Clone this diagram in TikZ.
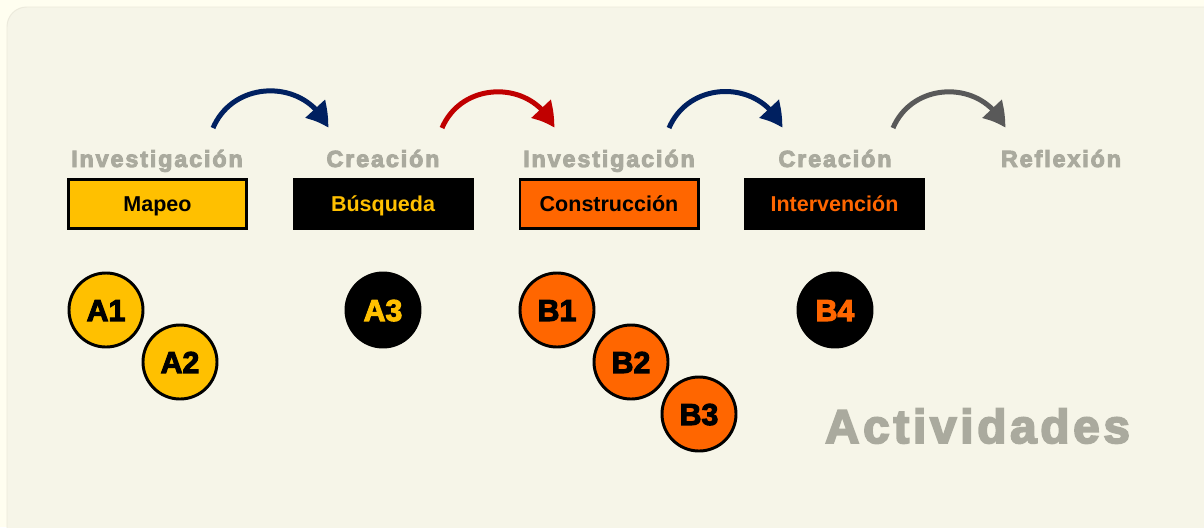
\documentclass[tikz,border=0pt]{standalone}
\usepackage{fontspec}
\setmainfont{Liberation Sans}
\newfontfamily\stagefont[LetterSpace=8]{Liberation Sans}[BoldFeatures={FakeBold=4}]
\newfontfamily\badgefont{Liberation Sans}[BoldFeatures={FakeBold=3.5}]
\usepackage{tikz}
\usetikzlibrary{arrows.meta, bending, positioning}
\definecolor{pagebg}{RGB}{255, 254, 240}
\definecolor{panelbg}{RGB}{246, 245, 232}
\definecolor{panelline}{RGB}{236, 234, 220}
\definecolor{stagegray}{RGB}{170, 170, 158}
\definecolor{mapgold}{RGB}{255, 192, 0}
\definecolor{buildorange}{RGB}{255, 102, 0}
\definecolor{navyarrow}{RGB}{0, 32, 96}
\definecolor{redarrow}{RGB}{192, 0, 0}
\definecolor{grayarrow}{RGB}{89, 89, 89}

\begin{document}
\begin{tikzpicture}[
  x=0.025cm, y=0.025cm,
  stagelabel/.style={anchor=base, inner sep=0pt, text=stagegray,
    font=\stagefont\bfseries\fontsize{16.6}{20}\selectfont},
  taskbox/.style={draw=black, line width=2.1pt, minimum width=4.45cm, minimum height=1.225cm,
    inner sep=0pt, text height=11pt, text depth=0pt, font=\bfseries\fontsize{15.3}{18}\selectfont},
  actcircle/.style={circle, draw=black, line width=2.1pt, minimum size=1.85cm, inner sep=0pt,
    text height=15.6pt, text depth=0pt, font=\badgefont\bfseries\fontsize{21.5}{24}\selectfont},
  flowarrow/.style={line width=3.55pt, -{Triangle[length=17pt, width=18pt, bend]},
    out=67, in=113, looseness=1.2}
]
  \useasboundingbox (0,0) rectangle (1204,-527);
  \clip (0,0) rectangle (1204,-527);
  \fill[pagebg] (0,0) rectangle (1204,-527);
  \filldraw[fill=panelbg, draw=panelline, line width=0.7pt, rounded corners=14pt]
    (7,-7) rectangle (1240,-560);

  % stages
  \node[stagelabel] (st1) at (157,-167) {Investigación};
  \node[stagelabel] (st2) at (383,-167) {Creación};
  \node[stagelabel] (st3) at (609,-167) {Investigación};
  \node[stagelabel] (st4) at (835,-167) {Creación};
  \node[stagelabel] (st5) at (1061,-167) {Reflexión};

  % task boxes
  \node[taskbox, fill=mapgold, text=black] (mapeo) at (157.5,-204) {Mapeo};
  \node[taskbox, fill=black, text=mapgold] (busqueda) at (383,-204) {Búsqueda};
  \node[taskbox, fill=buildorange, text=black] (construccion) at (609,-204) {Construcción};
  \node[taskbox, fill=black, text=buildorange] (intervencion) at (834.5,-204) {Intervención};

  % activities
  \node[actcircle, fill=mapgold, text=black] (a1) at (106,-310) {A1};
  \node[actcircle, fill=mapgold, text=black] (a2) at (180,-362) {A2};
  \node[actcircle, fill=black, text=mapgold] (a3) at (383,-310) {A3};
  \node[actcircle, fill=buildorange, text=black] (b1) at (557,-310) {B1};
  \node[actcircle, fill=buildorange, text=black] (b2) at (631,-362) {B2};
  \node[actcircle, fill=buildorange, text=black] (b3) at (699,-414) {B3};
  \node[actcircle, fill=black, text=buildorange] (b4) at (835,-310) {B4};

  \node[anchor=base, inner sep=0pt, text=stagegray,
    font=\stagefont\bfseries\fontsize{33.8}{40}\selectfont] (actividades) at (977.5,-443) {Actividades};

  % arrows between stages
  \coordinate (ar1s) at (213,-128);
  \coordinate (ar1e) at (328,-128);
  \coordinate (ar2s) at (442,-128);
  \coordinate (ar2e) at (554,-128);
  \coordinate (ar3s) at (669,-128);
  \coordinate (ar3e) at (782,-128);
  \coordinate (ar4s) at (893,-128);
  \coordinate (ar4e) at (1005,-128);
  \draw[flowarrow, navyarrow] (ar1s) to (ar1e);
  \draw[flowarrow, redarrow] (ar2s) to (ar2e);
  \draw[flowarrow, navyarrow] (ar3s) to (ar3e);
  \draw[flowarrow, grayarrow] (ar4s) to (ar4e);
\end{tikzpicture}
\end{document}
